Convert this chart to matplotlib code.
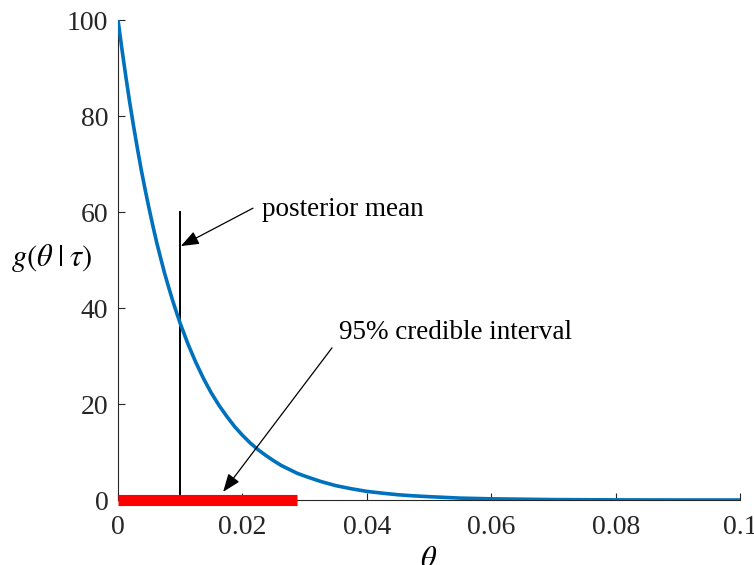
"""Posterior density g(theta | tau) with mean and 95% credible interval."""
import matplotlib
matplotlib.use("Agg")
import matplotlib.pyplot as plt

plt.rcParams["font.family"] = ["Liberation Serif", "DejaVu Serif"]
plt.rcParams["mathtext.fontset"] = "stix"

# curve
theta = [0, 0.000625, 0.00125, 0.001875, 0.0025, 0.003125, 0.00375, 0.004375,
         0.005, 0.005625, 0.00625, 0.006875, 0.0075, 0.008125, 0.00875, 0.009375,
         0.01, 0.01125, 0.0125, 0.01375, 0.015, 0.01625, 0.0175, 0.01875,
         0.02, 0.02125, 0.0225, 0.02375, 0.025, 0.02625, 0.0275, 0.02875,
         0.03, 0.0325, 0.035, 0.0375, 0.04, 0.0425, 0.045, 0.0475, 0.05,
         0.055, 0.06, 0.07, 0.08, 0.09, 0.1]
density = [100, 94.0, 88.3, 82.9, 77.9, 73.2, 68.7, 64.6,
           60.7, 57.0, 53.5, 50.3, 47.2, 44.4, 41.7, 39.2,
           36.8, 32.5, 28.7, 25.3, 22.3, 19.7, 17.4, 15.3,
           13.5, 11.9, 10.5, 9.3, 8.2, 7.2, 6.4, 5.6,
           5.0, 3.9, 3.0, 2.35, 1.8, 1.43, 1.1, 0.87, 0.7,
           0.4, 0.25, 0.09, 0.03, 0.01, 0.005]

post_mean = 0.01
mean_height = 60
interval = [0, 0.0288]

xticks = [0, 0.02, 0.04, 0.06, 0.08, 0.1]
xtick_labels = ["0", "0.02", "0.04", "0.06", "0.08", "0.1"]
yticks = [0, 20, 40, 60, 80, 100]

fig = plt.figure(figsize=(7.54, 5.65), dpi=100)
ax = fig.add_axes([0.1565, 0.115, 0.825, 0.8496])

ax.plot(theta, density, color="#0072BD", linewidth=2.6, zorder=3)
ax.plot([post_mean, post_mean], [0, mean_height], color="black", linewidth=1.4, zorder=2)
ax.plot(interval, [0, 0], color="#FF0000", linewidth=8, solid_capstyle="butt",
        zorder=4, clip_on=False)

arrow = dict(arrowstyle="-|>,head_length=1.1,head_width=0.42", color="black",
             linewidth=0.9, shrinkA=0, shrinkB=0)
ax.annotate("", xy=(0.0101, 52.9), xytext=(0.0217, 60.8), arrowprops=arrow)
ax.annotate("", xy=(0.0169, 1.7), xytext=(0.0344, 31.7), arrowprops=arrow)
ax.text(0.0231, 60.6, "posterior mean", fontsize=19.5, va="center", ha="left")
ax.text(0.0355, 34.9, "95% credible interval", fontsize=19.5, va="center", ha="left")

ax.set_xlim(0, 0.1)
ax.set_ylim(0, 100)
ax.set_xticks(xticks)
ax.set_xticklabels(xtick_labels)
ax.set_yticks(yticks)
ax.tick_params(direction="in", length=5, width=0.8, labelsize=20,
               colors="#262626")
ax.tick_params(axis="x", pad=11)
ax.tick_params(axis="y", pad=7)
for side in ("top", "right"):
    ax.spines[side].set_visible(False)
for side in ("left", "bottom"):
    ax.spines[side].set_color("#262626")
    ax.spines[side].set_linewidth(0.8)

ax.set_xlabel(r"$\theta$", fontsize=22, labelpad=4)
fig.text(0.069, 0.543, r"$g(\theta\;|\;\tau)$", fontsize=22, ha="center", va="center")

fig.savefig("out.png", dpi=100)
